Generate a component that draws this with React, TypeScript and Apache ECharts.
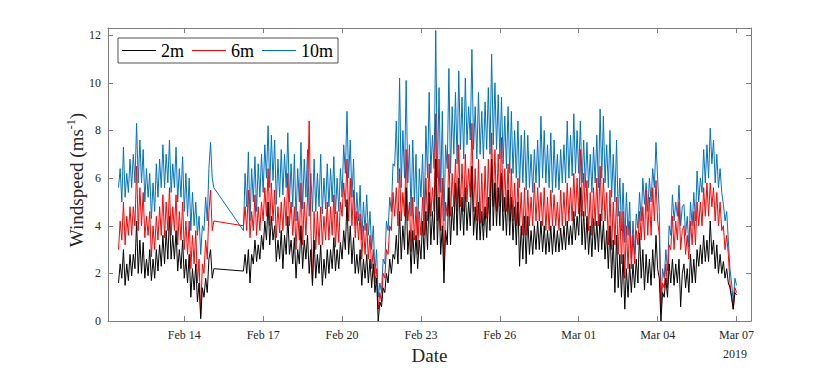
import React, { useEffect, useRef } from "react";
import * as echarts from "echarts";

// Time is measured in days after 2019-02-11 00:00; samples every 1.5 hours.
const SEG1_START_DAY = 0.5;
const SEG2_START_DAY = 5.25;
const STEP_DAY = 0.0625;

// 10 m wind speed (m/s)
const WIND_10M_A = [
  5.6, 6.4, 5.0, 7.3, 5.2, 6.2, 5.4, 6.8,
  5.6, 7.0, 5.8, 8.3, 5.8, 7.6, 5.8, 7.2, 5.0, 6.4, 5.2, 6.2, 4.3, 5.8, 4.6, 6.6,
  5.2, 6.8, 5.6, 7.4, 5.6, 7.0, 5.8, 7.6, 5.4, 6.6, 5.6, 7.3, 5.0, 6.4, 5.2, 6.9,
  4.6, 6.2, 4.4, 6.0, 3.8, 5.4, 4.0, 5.0, 3.6, 4.4, 2.8, 4.0, 3.8, 5.2, 4.2, 6.4,
  7.5, 6.0, 5.6,
];
const WIND_10M_B = [
  3.8, 6.2, 4.8, 7.1, 4.2, 6.4, 5.0, 6.9, 4.6, 6.6, 5.2, 7.0,
  5.4, 7.4, 6.0, 8.2, 5.6, 7.8, 5.9, 7.6, 4.9, 6.8, 5.2, 7.2, 5.3, 7.0, 5.6, 7.9,
  5.0, 6.6, 4.8, 7.0, 4.2, 6.4, 5.0, 7.5, 4.7, 6.8, 5.2, 7.2, 4.4, 6.2, 4.6, 6.8,
  4.6, 6.2, 4.8, 7.0, 4.5, 6.0, 4.7, 6.6, 4.8, 6.4, 5.0, 6.9, 4.5, 6.0, 4.6, 6.4,
  5.2, 7.4, 6.2, 8.8, 6.0, 7.6, 5.2, 6.8, 4.0, 5.4, 4.2, 5.7, 3.4, 5.0, 3.8, 5.3,
  3.6, 4.6, 3.0, 4.0, 2.0, 3.0, 1.0, 1.6, 1.2, 2.6, 2.4, 4.2, 3.8, 5.2, 4.6, 6.6,
  6.5, 8.4, 5.8, 10.2, 5.6, 8.0, 6.0, 10.1, 5.8, 7.4, 4.4, 7.6, 5.0, 7.0, 3.6, 6.4,
  5.2, 7.0, 4.2, 8.2, 6.0, 9.6, 6.2, 7.8, 6.4, 12.2, 6.0, 9.8, 5.4, 8.8, 4.2, 7.4,
  6.4, 10.6, 6.2, 9.0, 7.0, 9.6, 6.6, 10.5, 7.2, 9.4, 6.8, 10.2, 7.4, 9.0, 7.6, 11.4,
  7.2, 9.0, 6.8, 9.6, 7.0, 8.8, 6.8, 9.2, 7.2, 9.8, 7.0, 11.2, 7.4, 10.0, 7.2, 9.5,
  6.8, 9.4, 6.6, 8.6, 6.4, 9.0, 6.2, 8.8, 6.2, 8.0, 6.0, 8.4, 5.6, 7.8, 5.8, 8.0,
  5.5, 7.8, 5.6, 7.0, 5.4, 7.2, 5.8, 7.6, 5.6, 8.6, 6.0, 8.0, 5.8, 7.4, 5.6, 7.9,
  5.4, 7.6, 5.6, 7.0, 5.5, 7.2, 5.8, 7.4, 5.8, 8.4, 6.0, 7.8, 6.1, 8.7, 6.2, 8.0,
  6.2, 8.4, 5.8, 7.6, 5.6, 7.5, 5.6, 7.0, 5.4, 7.3, 5.8, 7.8, 5.6, 8.9, 6.0, 8.6,
  5.8, 7.4, 5.6, 8.0, 5.2, 7.0, 5.0, 7.6, 4.4, 6.0, 3.8, 5.8, 3.3, 5.4, 3.6, 5.0,
  2.6, 4.2, 2.8, 4.5, 3.9, 5.4, 4.2, 6.0, 4.9, 5.8, 4.6, 6.0, 5.0, 6.4, 5.6, 7.5,
  6.0, 4.6, 0.9, 2.2, 1.8, 3.0, 2.1, 4.0, 3.6, 5.3, 4.2, 5.0, 4.4, 5.7, 4.0, 4.8,
  4.9, 3.6, 4.4, 3.1, 5.0, 4.0, 5.4, 4.2, 6.3, 5.0, 6.0, 5.4, 7.2, 5.8, 7.4, 6.0,
  8.1, 6.6, 7.6, 5.8, 7.0, 5.6, 6.4, 5.4, 4.9, 4.2, 4.6, 3.4, 2.2, 1.6, 0.8, 1.8,
  1.5,
];

// 6 m wind speed (m/s)
const WIND_6M_A = [
  3.0, 4.2, 3.4, 5.0, 3.2, 4.4, 3.6, 4.8,
  3.6, 4.8, 4.0, 6.5, 3.8, 5.6, 4.0, 5.4, 3.5, 4.4, 3.6, 4.6, 2.7, 4.0, 3.0, 4.4,
  3.4, 4.8, 3.6, 5.3, 3.5, 5.0, 3.8, 5.6, 3.6, 4.8, 3.8, 5.3, 3.2, 4.6, 3.4, 5.0,
  3.0, 4.2, 2.8, 4.2, 2.2, 3.6, 2.4, 3.8, 1.6, 2.6, 0.2, 2.4, 2.0, 3.4, 2.6, 4.6,
  5.5, 3.8, 4.2,
];
const WIND_6M_B = [
  4.0, 4.8, 3.8, 5.5, 3.5, 4.6, 3.8, 5.3, 3.6, 4.8, 3.8, 5.0,
  4.2, 5.6, 4.4, 6.4, 4.0, 5.8, 4.2, 5.5, 3.5, 4.8, 3.7, 5.0, 3.8, 5.2, 4.0, 6.2,
  4.0, 5.0, 3.6, 4.8, 3.0, 4.6, 3.4, 5.8, 3.2, 5.0, 3.6, 5.2, 8.4, 4.0, 1.5, 4.6,
  3.0, 4.6, 3.2, 4.8, 3.2, 4.4, 3.4, 5.0, 3.4, 4.8, 3.6, 5.3, 3.1, 4.6, 3.3, 5.0,
  4.4, 5.8, 4.8, 6.8, 4.2, 6.0, 4.0, 5.5, 3.5, 4.6, 3.4, 4.5, 2.6, 4.0, 2.8, 4.1,
  2.6, 3.6, 2.2, 3.0, 1.6, 2.2, 0.5, 1.2, 0.8, 2.0, 1.8, 3.0, 2.8, 4.0, 3.8, 5.4,
  4.4, 5.6, 4.0, 6.4, 4.2, 5.4, 4.4, 7.2, 4.2, 5.0, 2.9, 5.2, 3.4, 4.8, 2.8, 4.6,
  3.6, 5.2, 3.6, 6.0, 4.2, 6.6, 4.4, 5.6, 4.6, 8.7, 4.2, 6.8, 3.8, 6.0, 2.1, 5.0,
  4.4, 7.0, 4.4, 6.2, 4.8, 6.8, 4.6, 7.4, 4.8, 6.6, 4.6, 7.0, 5.0, 6.4, 5.2, 8.3,
  4.6, 6.4, 4.2, 6.8, 4.1, 6.2, 4.0, 6.5, 4.3, 6.8, 4.5, 7.9, 4.8, 7.2, 4.6, 7.0,
  4.8, 7.7, 4.6, 6.4, 4.6, 6.6, 4.2, 6.4, 4.2, 5.8, 4.0, 6.0, 4.0, 5.4, 3.6, 5.6,
  3.6, 5.5, 4.0, 5.2, 4.0, 5.8, 4.2, 5.6, 4.2, 5.4, 4.0, 5.6, 3.8, 5.2, 3.8, 5.5,
  4.0, 5.3, 4.0, 5.0, 3.8, 5.5, 4.0, 5.4, 4.0, 5.8, 4.2, 5.6, 4.2, 6.2, 4.4, 6.0,
  4.5, 7.2, 4.4, 6.2, 4.4, 5.9, 3.8, 5.4, 3.6, 5.6, 4.0, 6.0, 4.0, 6.5, 4.2, 6.0,
  4.2, 5.4, 3.2, 5.5, 3.0, 5.0, 3.2, 5.2, 2.8, 4.6, 2.4, 4.6, 1.8, 4.0, 2.2, 4.2,
  2.2, 3.6, 2.4, 3.8, 3.2, 4.6, 3.4, 4.8, 3.4, 5.5, 3.6, 5.2, 3.6, 5.6, 4.2, 5.9,
  4.2, 3.6, 0.5, 1.6, 1.4, 2.4, 1.4, 3.2, 3.0, 4.4, 3.0, 4.2, 3.4, 5.0, 3.0, 3.8,
  4.0, 2.8, 3.6, 2.6, 4.2, 3.2, 4.6, 3.2, 5.0, 4.0, 5.0, 4.0, 5.6, 4.4, 5.8, 4.4,
  5.8, 4.8, 5.6, 4.2, 5.4, 4.0, 5.0, 3.8, 4.0, 3.0, 3.6, 2.8, 1.6, 1.0, 0.5, 1.4,
  1.2,
];

// 2 m wind speed (m/s)
const WIND_2M_A = [
  1.6, 2.4, 1.8, 3.0, 1.5, 2.4, 1.7, 2.8,
  1.9, 2.8, 2.2, 4.2, 2.0, 3.4, 2.0, 3.3, 1.8, 2.6, 1.9, 3.0, 1.7, 2.6, 1.8, 3.0,
  2.1, 3.2, 2.3, 3.6, 2.4, 3.8, 2.6, 4.4, 2.6, 3.6, 2.6, 3.8, 2.1, 3.0, 2.2, 3.4,
  1.8, 2.6, 1.6, 2.8, 1.0, 2.2, 1.3, 2.4, 0.8, 1.6, 0.1, 1.4, 1.0, 1.8, 1.2, 2.6,
  3.0, 1.8, 2.2,
];
const WIND_2M_B = [
  2.1, 2.8, 2.0, 3.0, 1.6, 2.8, 2.4, 3.4, 2.5, 3.2, 2.6, 3.6,
  3.0, 4.2, 3.4, 5.0, 3.2, 4.4, 3.4, 4.0, 2.5, 3.4, 2.6, 3.8, 2.2, 3.6, 2.8, 4.4,
  2.8, 3.4, 2.4, 3.5, 1.8, 3.0, 2.4, 4.0, 2.2, 3.4, 2.6, 3.6, 2.0, 3.0, 1.5, 3.4,
  1.8, 2.8, 2.0, 3.2, 1.5, 2.6, 1.8, 3.0, 2.0, 3.0, 2.2, 3.5, 2.1, 3.0, 2.2, 3.3,
  2.6, 3.8, 3.0, 5.1, 2.8, 4.0, 2.4, 3.5, 2.0, 2.8, 2.0, 3.0, 1.5, 2.6, 1.8, 2.8,
  1.6, 2.6, 1.4, 2.4, 1.2, 1.8, 0.0, 0.8, 0.6, 1.4, 1.2, 2.0, 1.6, 2.6, 2.0, 2.8,
  2.6, 3.6, 2.4, 4.6, 2.6, 4.0, 3.0, 5.6, 2.8, 3.8, 2.0, 3.8, 2.4, 3.6, 2.2, 3.4,
  2.6, 4.2, 2.6, 4.6, 3.0, 5.4, 3.2, 4.6, 3.4, 6.8, 3.2, 5.2, 2.8, 4.0, 1.6, 3.8,
  3.2, 5.6, 3.2, 4.8, 3.8, 5.8, 3.6, 6.0, 3.8, 5.2, 3.6, 5.6, 3.8, 5.0, 4.0, 6.5,
  3.6, 4.8, 3.4, 5.0, 3.4, 4.6, 3.4, 4.8, 3.5, 5.2, 3.8, 6.8, 4.0, 5.8, 4.0, 5.6,
  4.0, 6.2, 3.8, 5.2, 3.6, 5.5, 3.6, 5.2, 3.4, 4.8, 3.2, 5.0, 2.3, 4.0, 2.6, 4.4,
  2.4, 4.4, 2.8, 3.8, 2.8, 4.0, 3.0, 4.2, 3.0, 4.2, 2.9, 4.0, 2.8, 3.8, 2.9, 4.0,
  2.8, 4.0, 2.9, 3.8, 2.9, 3.9, 3.0, 4.0, 3.0, 4.2, 3.2, 4.0, 3.2, 4.6, 3.4, 4.4,
  3.6, 5.6, 3.2, 4.6, 3.0, 4.4, 2.8, 4.0, 2.7, 4.3, 3.0, 4.2, 2.9, 4.5, 3.0, 4.2,
  2.6, 3.8, 2.2, 4.0, 1.8, 3.4, 1.2, 3.6, 1.4, 2.8, 1.0, 2.8, 0.5, 2.2, 1.0, 2.4,
  1.2, 2.4, 1.4, 2.6, 1.6, 3.7, 1.8, 3.0, 1.3, 2.8, 1.6, 2.6, 1.5, 3.0, 1.8, 3.6,
  2.2, 1.8, 0.0, 1.2, 1.0, 1.8, 1.0, 2.4, 1.6, 2.6, 1.5, 2.4, 1.6, 2.6, 0.6, 2.0,
  2.4, 1.4, 2.2, 1.2, 2.8, 1.6, 2.6, 1.6, 3.0, 2.3, 3.2, 2.4, 3.6, 2.5, 3.4, 2.5,
  4.2, 2.8, 3.4, 2.2, 3.2, 2.0, 2.8, 2.0, 2.5, 1.8, 2.2, 1.6, 1.4, 1.0, 0.5, 1.2,
  1.1,
];

const X_TICK_DAYS = [3, 6, 9, 12, 15, 18, 21, 24];
const X_TICK_LABELS = ["Feb 14", "Feb 17", "Feb 20", "Feb 23", "Feb 26", "Mar 01", "Mar 04", "Mar 07"];
const Y_TICKS = [0, 2, 4, 6, 8, 10, 12];

const FONT = "'Liberation Serif', 'Times New Roman', serif";
const AXIS_COLOR = "#7d7d7d";
const TEXT_COLOR = "#262626";

function toPoints(a: number[], b: number[]) {
  const p1 = a.map((v, i) => [SEG1_START_DAY + i * STEP_DAY, v]);
  const p2 = b.map((v, i) => [SEG2_START_DAY + i * STEP_DAY, v]);
  return p1.concat(p2);
}

export default function App() {
  const ref = useRef<HTMLDivElement>(null);

  useEffect(() => {
    if (!ref.current) return;
    const chart = echarts.init(ref.current, undefined, { renderer: "svg" });

    const xCommon = {
      type: "value" as const,
      min: 0.1,
      max: 24.55,
      splitLine: { show: false },
      axisLine: { show: true, onZero: false, lineStyle: { color: AXIS_COLOR, width: 1 } },
      axisTick: { show: true, inside: true, length: 5, customValues: X_TICK_DAYS, lineStyle: { color: AXIS_COLOR } },
    };
    const yCommon = {
      type: "value" as const,
      min: 0,
      max: 12.3,
      splitLine: { show: false },
      axisLine: { show: true, onZero: false, lineStyle: { color: AXIS_COLOR, width: 1 } },
      axisTick: { show: true, inside: true, length: 5, customValues: Y_TICKS, lineStyle: { color: AXIS_COLOR } },
    };

    const lineSeries = (name: string, color: string, data: number[][]) => ({
      name,
      type: "line" as const,
      data,
      symbol: "none",
      showSymbol: false,
      lineStyle: { color, width: 1 },
      itemStyle: { color },
      xAxisIndex: 0,
      yAxisIndex: 0,
    });

    chart.setOption({
      animation: false,
      backgroundColor: "#ffffff",
      textStyle: { fontFamily: FONT },
      grid: { left: 108, right: 79, top: 28, bottom: 46 },
      legend: {
        data: ["2m", "6m", "10m"],
        icon: "rect",
        left: 118,
        top: 38,
        orient: "horizontal",
        itemWidth: 34,
        itemHeight: 1,
        itemGap: 8,
        padding: [2, 5, 2, 4],
        borderColor: "#262626",
        borderWidth: 0.8,
        backgroundColor: "#ffffff",
        textStyle: { fontSize: 18, fontFamily: FONT, color: "#000000", lineHeight: 21 },
      },
      xAxis: [
        {
          ...xCommon,
          position: "bottom",
          axisLabel: {
            show: true,
            customValues: X_TICK_DAYS,
            formatter: (v: number) => {
              const i = X_TICK_DAYS.indexOf(v);
              return i >= 0 ? X_TICK_LABELS[i] : "";
            },
            color: TEXT_COLOR,
            fontSize: 12,
            fontFamily: FONT,
            margin: 8,
          },
          name: "Date",
          nameLocation: "middle",
          nameGap: 21,
          nameTextStyle: { fontSize: 19, fontFamily: FONT, color: TEXT_COLOR },
        },
        {
          ...xCommon,
          position: "top",
          axisLabel: { show: false },
        },
      ],
      yAxis: [
        {
          ...yCommon,
          position: "left",
          axisLabel: {
            show: true,
            customValues: Y_TICKS,
            color: TEXT_COLOR,
            fontSize: 12,
            fontFamily: FONT,
            margin: 7,
          },
        },
        {
          ...yCommon,
          position: "right",
          axisLabel: { show: false },
        },
      ],
      graphic: [
        {
          type: "text",
          x: 76,
          y: 180,
          rotation: Math.PI / 2,
          style: {
            text: "{a|Windspeed (ms}{b|-1}{a|)}",
            align: "center",
            verticalAlign: "middle",
            rich: {
              a: { fontSize: 19, fontFamily: FONT, fill: TEXT_COLOR, lineHeight: 22 },
              b: { fontSize: 12, fontFamily: FONT, fill: TEXT_COLOR, verticalAlign: "top" },
            },
          },
        },
        {
          type: "text",
          x: 735,
          y: 354,
          style: {
            text: "2019",
            align: "center",
            verticalAlign: "middle",
            fontSize: 12,
            fontFamily: FONT,
            fill: TEXT_COLOR,
          },
        },
      ],
      series: [
        lineSeries("10m", "#0072BD", toPoints(WIND_10M_A, WIND_10M_B)),
        lineSeries("6m", "#FF0000", toPoints(WIND_6M_A, WIND_6M_B)),
        lineSeries("2m", "#000000", toPoints(WIND_2M_A, WIND_2M_B)),
      ],
    });

    return () => chart.dispose();
  }, []);

  return (
    <div
      ref={ref}
      style={{ position: "absolute", left: 0, top: 0, width: 830, height: 370, background: "#fff" }}
    />
  );
}
